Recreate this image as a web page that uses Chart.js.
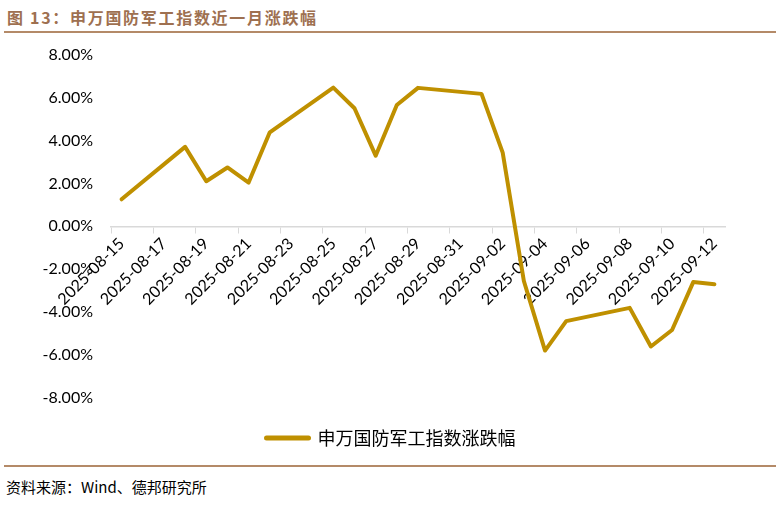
<!DOCTYPE html>
<html>
<head>
<meta charset="utf-8">
<script src="https://cdn.jsdelivr.net/npm/chart.js@4.4.1/dist/chart.umd.min.js"></script>
<style>
  body { margin: 0; background: #fff; width: 782px; height: 507px; position: relative; overflow: hidden; }
  #title { position: absolute; left: 7px; top: 5px; font: bold 16px "Noto Sans CJK SC", sans-serif; color: #9e7050; letter-spacing: 1.7px; white-space: nowrap; }
  .rule { position: absolute; left: 4px; width: 772px; height: 2px; background: #b48a68; }
  #chartBox { position: absolute; left: 0; top: 35px; width: 782px; height: 450px; }
  #source { position: absolute; left: 6px; top: 476px; font: 15px "Noto Sans CJK SC", sans-serif; color: #000; white-space: nowrap; }
</style>
</head>
<body>
<div id="title">图 13：申万国防军工指数近一月涨跌幅</div>
<div class="rule" style="top:31px"></div>
<div class="rule" style="top:465px"></div>
<div id="source">资料来源：Wind、德邦研究所</div>
<div id="chartBox"><canvas id="c" width="782" height="450"></canvas></div>
<script>
// calendar days on the axis
const days = [
  "2025-08-15", "2025-08-16", "2025-08-17", "2025-08-18", "2025-08-19", "2025-08-20",
  "2025-08-21", "2025-08-22", "2025-08-23", "2025-08-24", "2025-08-25", "2025-08-26",
  "2025-08-27", "2025-08-28", "2025-08-29", "2025-08-30", "2025-08-31", "2025-09-01",
  "2025-09-02", "2025-09-03", "2025-09-04", "2025-09-05", "2025-09-06", "2025-09-07",
  "2025-09-08", "2025-09-09", "2025-09-10", "2025-09-11", "2025-09-12"
];

// trading days and the index change (%)
const tradeDays = [
  "2025-08-15", "2025-08-18", "2025-08-19", "2025-08-20", "2025-08-21", "2025-08-22",
  "2025-08-25", "2025-08-26", "2025-08-27", "2025-08-28", "2025-08-29", "2025-09-01",
  "2025-09-02", "2025-09-03", "2025-09-04", "2025-09-05", "2025-09-08", "2025-09-09",
  "2025-09-10", "2025-09-11", "2025-09-12"
];
const changes = [
  1.26, 3.70, 2.10, 2.74, 2.04, 4.38,
  6.46, 5.50, 3.29, 5.65, 6.45, 6.17,
  3.43, -2.55, -5.79, -4.42, -3.80, -5.60,
  -4.83, -2.60, -2.70
];

const yTicks = [-8, -6, -4, -2, 0, 2, 4, 6, 8];
const seriesName = "申万国防军工指数涨跌幅";
const gold = "#BF9000";

const values = days.map(d => {
  const i = tradeDays.indexOf(d);
  return i >= 0 ? changes[i] : null;
});

new Chart(document.getElementById("c"), {
  type: "line",
  data: {
    labels: days,
    datasets: [{
      label: seriesName,
      data: values,
      borderColor: gold,
      backgroundColor: gold,
      borderWidth: 4,
      borderJoinStyle: "round",
      borderCapStyle: "round",
      pointRadius: 0,
      pointHoverRadius: 0,
      spanGaps: true,
      tension: 0
    }]
  },
  options: {
    responsive: false,
    animation: false,
    layout: { padding: { top: 14, right: 0, bottom: 28, left: 0 } },
    plugins: {
      tooltip: { enabled: false },
      legend: {
        position: "bottom",
        labels: {
          usePointStyle: true,
          pointStyle: "line",
          pointStyleWidth: 42,
          padding: 31,
          color: "#000",
          font: { family: "Noto Sans CJK SC", size: 18 },
          generateLabels: chart => {
            const items = Chart.defaults.plugins.legend.labels.generateLabels(chart);
            items.forEach(it => { it.lineWidth = 5; it.lineCap = "round"; it.strokeStyle = gold; });
            return items;
          }
        }
      }
    },
    scales: {
      x: {
        type: "category",
        position: { y: 0 },
        offset: true,
        grid: {
          display: true,
          drawOnChartArea: false,
          offset: true,
          tickLength: 6,
          tickColor: ctx => ctx.index % 2 === 0 ? "#d9d9d9" : "rgba(0,0,0,0)"
        },
        border: { color: "#d9d9d9", width: 1.5 },
        ticks: {
          autoSkip: false,
          maxRotation: 45,
          minRotation: 45,
          padding: 2,
          color: "#000",
          font: { family: "Lato", size: 16 },
          callback: function (v, i) { return i % 2 === 0 ? this.getLabelForValue(v) : ""; }
        }
      },
      y: {
        min: -8,
        max: 8,
        afterBuildTicks: s => { s.ticks = yTicks.map(v => ({ value: v })); },
        afterFit: s => { s.width = 111; },
        grid: { display: false },
        border: { display: false },
        ticks: {
          padding: 10,
          color: "#000",
          font: { family: "Lato", size: 16 },
          callback: v => v.toFixed(2) + "%"
        }
      },
      // empty right-hand space so the legend centres on the whole canvas
      yRight: {
        position: "right",
        afterFit: s => { s.width = 57; },
        grid: { display: false },
        border: { display: false },
        ticks: { callback: () => "" }
      }
    }
  }
});
</script>
</body>
</html>
